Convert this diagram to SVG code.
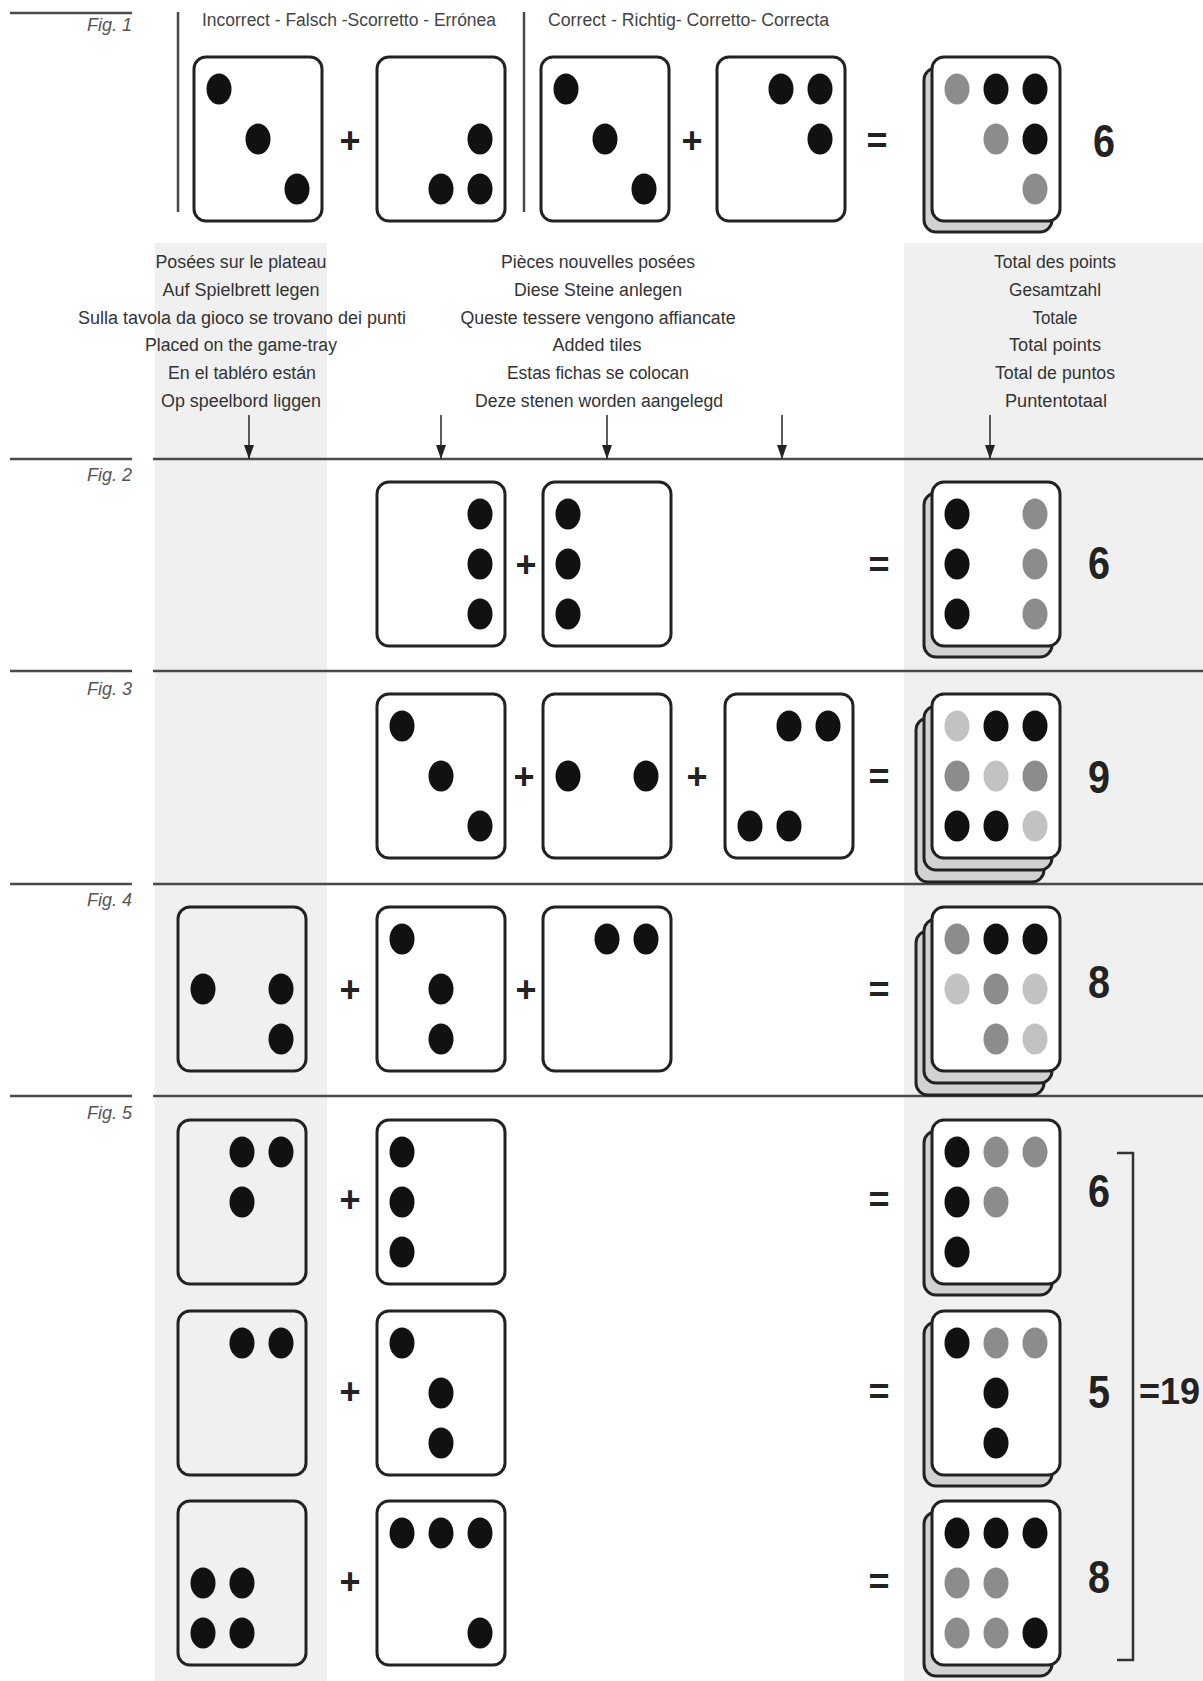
<svg xmlns="http://www.w3.org/2000/svg" xmlns:xlink="http://www.w3.org/1999/xlink" width="1203" height="1681" viewBox="0 0 1203 1681">
<style>
.ln{stroke:#4a4a4a;stroke-width:2.5;fill:none}
.br{stroke:#333;stroke-width:2.5;fill:none}
.ar{stroke:#333;stroke-width:1.6;fill:none}
.tile{fill:#fff;stroke:#222;stroke-width:3}
.tileT{fill:none;stroke:#222;stroke-width:3}
.back{fill:#d2d2d2;stroke:#222;stroke-width:3}
.k{fill:#111}.m{fill:#8c8c8c}.l{fill:#c2c2c2}
.band{fill:#f0f0f0}
.hdr{font-family:"Liberation Sans",Arial,sans-serif;font-size:18px;fill:#333;text-anchor:middle}
.hdl{font-family:"Liberation Sans",Arial,sans-serif;font-size:18px;fill:#444}
.fig{font-family:"Liberation Sans",Arial,sans-serif;font-style:italic;font-size:18px;fill:#555;text-anchor:end}
.op{font-family:"Liberation Sans",Arial,sans-serif;font-weight:bold;font-size:36px;fill:#222;text-anchor:middle;dominant-baseline:central}
.num{font-family:"Liberation Sans",Arial,sans-serif;font-weight:bold;font-size:47px;fill:#222;text-anchor:middle;dominant-baseline:central}
.tot{font-family:"Liberation Sans",Arial,sans-serif;font-weight:bold;font-size:36px;fill:#222;dominant-baseline:central}
</style>
<defs>
<marker id="ah" viewBox="0 0 14 10" refX="14" refY="5" markerWidth="14" markerHeight="10" markerUnits="userSpaceOnUse" orient="auto">
<path d="M0,0 L14,5 L0,10 z" fill="#222"/>
</marker>
<rect id="t" width="128" height="164" rx="12"/>
</defs>
<rect width="1203" height="1681" fill="#fff"/>
<!-- background bands -->
<rect class="band" x="155" y="243" width="172" height="1438"/>
<rect class="band" x="904" y="243" width="299" height="1438"/>

<!-- rules -->
<g id="rules">
<line class="ln" x1="10" y1="13" x2="132" y2="13"/>
<line class="ln" x1="178" y1="12" x2="178" y2="212"/>
<line class="ln" x1="524" y1="12" x2="524" y2="212"/>
<line class="ln" x1="10" y1="459" x2="132" y2="459"/>
<line class="ln" x1="153" y1="459" x2="1203" y2="459"/>
<line class="ln" x1="10" y1="671" x2="132" y2="671"/>
<line class="ln" x1="153" y1="671" x2="1203" y2="671"/>
<line class="ln" x1="10" y1="884" x2="132" y2="884"/>
<line class="ln" x1="153" y1="884" x2="1203" y2="884"/>
<line class="ln" x1="10" y1="1096" x2="132" y2="1096"/>
<line class="ln" x1="153" y1="1096" x2="1203" y2="1096"/>
</g>

<!-- labels -->
<g id="figlabels">
<text class="fig" x="132" y="31">Fig. 1</text>
<text class="fig" x="132" y="481">Fig. 2</text>
<text class="fig" x="132" y="695">Fig. 3</text>
<text class="fig" x="132" y="906">Fig. 4</text>
<text class="fig" x="132" y="1119">Fig. 5</text>
</g>
<g id="fig1-headers">
<text class="hdl" x="202" y="26" textLength="294" lengthAdjust="spacingAndGlyphs">Incorrect - Falsch -Scorretto - Errónea</text>
<text class="hdl" x="548" y="26" textLength="281" lengthAdjust="spacingAndGlyphs">Correct - Richtig- Corretto- Correcta</text>
</g>
<g id="col1-header">
<text class="hdr" x="241" y="268" textLength="171" lengthAdjust="spacingAndGlyphs">Posées sur le plateau</text>
<text class="hdr" x="241" y="296" textLength="157" lengthAdjust="spacingAndGlyphs">Auf Spielbrett legen</text>
<text class="hdr" x="242" y="324" textLength="328" lengthAdjust="spacingAndGlyphs">Sulla tavola da gioco se trovano dei punti</text>
<text class="hdr" x="241" y="351" textLength="192" lengthAdjust="spacingAndGlyphs">Placed on the game-tray</text>
<text class="hdr" x="242" y="379" textLength="148" lengthAdjust="spacingAndGlyphs">En el tabléro están</text>
<text class="hdr" x="241" y="407" textLength="160" lengthAdjust="spacingAndGlyphs">Op speelbord liggen</text>
</g>
<g id="col2-header">
<text class="hdr" x="598" y="268" textLength="194" lengthAdjust="spacingAndGlyphs">Pièces nouvelles posées</text>
<text class="hdr" x="598" y="296" textLength="168" lengthAdjust="spacingAndGlyphs">Diese Steine anlegen</text>
<text class="hdr" x="598" y="324" textLength="275" lengthAdjust="spacingAndGlyphs">Queste tessere vengono affiancate</text>
<text class="hdr" x="597" y="351" textLength="89" lengthAdjust="spacingAndGlyphs">Added tiles</text>
<text class="hdr" x="598" y="379" textLength="182" lengthAdjust="spacingAndGlyphs">Estas fichas se colocan</text>
<text class="hdr" x="599" y="407" textLength="248" lengthAdjust="spacingAndGlyphs">Deze stenen worden aangelegd</text>
</g>
<g id="col3-header">
<text class="hdr" x="1055" y="268" textLength="122" lengthAdjust="spacingAndGlyphs">Total des points</text>
<text class="hdr" x="1055" y="296" textLength="92" lengthAdjust="spacingAndGlyphs">Gesamtzahl</text>
<text class="hdr" x="1055" y="324" textLength="45" lengthAdjust="spacingAndGlyphs">Totale</text>
<text class="hdr" x="1055" y="351" textLength="92" lengthAdjust="spacingAndGlyphs">Total points</text>
<text class="hdr" x="1055" y="379" textLength="120" lengthAdjust="spacingAndGlyphs">Total de puntos</text>
<text class="hdr" x="1056" y="407" textLength="102" lengthAdjust="spacingAndGlyphs">Puntentotaal</text>
</g>

<!-- connectors -->
<g id="connectors">
<line class="ar" x1="249" y1="415" x2="249" y2="459" marker-end="url(#ah)"/>
<line class="ar" x1="441" y1="415" x2="441" y2="459" marker-end="url(#ah)"/>
<line class="ar" x1="607" y1="415" x2="607" y2="459" marker-end="url(#ah)"/>
<line class="ar" x1="782" y1="415" x2="782" y2="459" marker-end="url(#ah)"/>
<line class="ar" x1="990" y1="415" x2="990" y2="459" marker-end="url(#ah)"/>
</g>

<!-- ===== Fig 1 ===== -->
<g id="f1-a" transform="translate(194,57)">
<use href="#t" class="tile"/>
<ellipse class="k" cx="25" cy="32" rx="12.5" ry="15.5"/>
<ellipse class="k" cx="64" cy="82" rx="12.5" ry="15.5"/>
<ellipse class="k" cx="103" cy="132" rx="12.5" ry="15.5"/>
</g>
<text class="op" x="350" y="140">+</text>
<g id="f1-b" transform="translate(377,57)">
<use href="#t" class="tile"/>
<ellipse class="k" cx="103" cy="82" rx="12.5" ry="15.5"/>
<ellipse class="k" cx="64" cy="132" rx="12.5" ry="15.5"/>
<ellipse class="k" cx="103" cy="132" rx="12.5" ry="15.5"/>
</g>
<g id="f1-c" transform="translate(541,57)">
<use href="#t" class="tile"/>
<ellipse class="k" cx="25" cy="32" rx="12.5" ry="15.5"/>
<ellipse class="k" cx="64" cy="82" rx="12.5" ry="15.5"/>
<ellipse class="k" cx="103" cy="132" rx="12.5" ry="15.5"/>
</g>
<text class="op" x="692" y="140">+</text>
<g id="f1-d" transform="translate(717,57)">
<use href="#t" class="tile"/>
<ellipse class="k" cx="64" cy="32" rx="12.5" ry="15.5"/>
<ellipse class="k" cx="103" cy="32" rx="12.5" ry="15.5"/>
<ellipse class="k" cx="103" cy="82" rx="12.5" ry="15.5"/>
</g>
<text class="op" x="877" y="140">=</text>
<g id="f1-r" transform="translate(932,57)">
<use href="#t" class="back" x="-8" y="11"/>
<use href="#t" class="tile"/>
<ellipse class="m" cx="25" cy="32" rx="12.5" ry="15.5"/>
<ellipse class="k" cx="64" cy="32" rx="12.5" ry="15.5"/>
<ellipse class="k" cx="103" cy="32" rx="12.5" ry="15.5"/>
<ellipse class="m" cx="64" cy="82" rx="12.5" ry="15.5"/>
<ellipse class="k" cx="103" cy="82" rx="12.5" ry="15.5"/>
<ellipse class="m" cx="103" cy="132" rx="12.5" ry="15.5"/>
</g>
<text class="num" x="1104" y="140" textLength="22" lengthAdjust="spacingAndGlyphs">6</text>

<!-- ===== Fig 2 ===== -->
<g id="f2-b" transform="translate(377,482)">
<use href="#t" class="tile"/>
<ellipse class="k" cx="103" cy="32" rx="12.5" ry="15.5"/>
<ellipse class="k" cx="103" cy="82" rx="12.5" ry="15.5"/>
<ellipse class="k" cx="103" cy="132" rx="12.5" ry="15.5"/>
</g>
<text class="op" x="526" y="564">+</text>
<g id="f2-c" transform="translate(543,482)">
<use href="#t" class="tile"/>
<ellipse class="k" cx="25" cy="32" rx="12.5" ry="15.5"/>
<ellipse class="k" cx="25" cy="82" rx="12.5" ry="15.5"/>
<ellipse class="k" cx="25" cy="132" rx="12.5" ry="15.5"/>
</g>
<text class="op" x="879" y="564">=</text>
<g id="f2-r" transform="translate(932,482)">
<use href="#t" class="back" x="-8" y="11"/>
<use href="#t" class="tile"/>
<ellipse class="k" cx="25" cy="32" rx="12.5" ry="15.5"/>
<ellipse class="k" cx="25" cy="82" rx="12.5" ry="15.5"/>
<ellipse class="k" cx="25" cy="132" rx="12.5" ry="15.5"/>
<ellipse class="m" cx="103" cy="32" rx="12.5" ry="15.5"/>
<ellipse class="m" cx="103" cy="82" rx="12.5" ry="15.5"/>
<ellipse class="m" cx="103" cy="132" rx="12.5" ry="15.5"/>
</g>
<text class="num" x="1099" y="562" textLength="22" lengthAdjust="spacingAndGlyphs">6</text>

<!-- ===== Fig 3 ===== -->
<g id="f3-b" transform="translate(377,694)">
<use href="#t" class="tile"/>
<ellipse class="k" cx="25" cy="32" rx="12.5" ry="15.5"/>
<ellipse class="k" cx="64" cy="82" rx="12.5" ry="15.5"/>
<ellipse class="k" cx="103" cy="132" rx="12.5" ry="15.5"/>
</g>
<text class="op" x="524" y="776">+</text>
<g id="f3-c" transform="translate(543,694)">
<use href="#t" class="tile"/>
<ellipse class="k" cx="25" cy="82" rx="12.5" ry="15.5"/>
<ellipse class="k" cx="103" cy="82" rx="12.5" ry="15.5"/>
</g>
<text class="op" x="697" y="776">+</text>
<g id="f3-d" transform="translate(725,694)">
<use href="#t" class="tile"/>
<ellipse class="k" cx="64" cy="32" rx="12.5" ry="15.5"/>
<ellipse class="k" cx="103" cy="32" rx="12.5" ry="15.5"/>
<ellipse class="k" cx="25" cy="132" rx="12.5" ry="15.5"/>
<ellipse class="k" cx="64" cy="132" rx="12.5" ry="15.5"/>
</g>
<text class="op" x="879" y="776">=</text>
<g id="f3-r" transform="translate(932,694)">
<use href="#t" class="back" x="-16" y="24"/>
<use href="#t" class="back" x="-8" y="12"/>
<use href="#t" class="tile"/>
<ellipse class="l" cx="25" cy="32" rx="12.5" ry="15.5"/>
<ellipse class="k" cx="64" cy="32" rx="12.5" ry="15.5"/>
<ellipse class="k" cx="103" cy="32" rx="12.5" ry="15.5"/>
<ellipse class="m" cx="25" cy="82" rx="12.5" ry="15.5"/>
<ellipse class="l" cx="64" cy="82" rx="12.5" ry="15.5"/>
<ellipse class="m" cx="103" cy="82" rx="12.5" ry="15.5"/>
<ellipse class="k" cx="25" cy="132" rx="12.5" ry="15.5"/>
<ellipse class="k" cx="64" cy="132" rx="12.5" ry="15.5"/>
<ellipse class="l" cx="103" cy="132" rx="12.5" ry="15.5"/>
</g>
<text class="num" x="1099" y="776" textLength="22" lengthAdjust="spacingAndGlyphs">9</text>

<!-- ===== Fig 4 ===== -->
<g id="f4-a" transform="translate(178,907)">
<use href="#t" class="tileT"/>
<ellipse class="k" cx="25" cy="82" rx="12.5" ry="15.5"/>
<ellipse class="k" cx="103" cy="82" rx="12.5" ry="15.5"/>
<ellipse class="k" cx="103" cy="132" rx="12.5" ry="15.5"/>
</g>
<text class="op" x="350" y="989">+</text>
<g id="f4-b" transform="translate(377,907)">
<use href="#t" class="tile"/>
<ellipse class="k" cx="25" cy="32" rx="12.5" ry="15.5"/>
<ellipse class="k" cx="64" cy="82" rx="12.5" ry="15.5"/>
<ellipse class="k" cx="64" cy="132" rx="12.5" ry="15.5"/>
</g>
<text class="op" x="526" y="989">+</text>
<g id="f4-c" transform="translate(543,907)">
<use href="#t" class="tile"/>
<ellipse class="k" cx="64" cy="32" rx="12.5" ry="15.5"/>
<ellipse class="k" cx="103" cy="32" rx="12.5" ry="15.5"/>
</g>
<text class="op" x="879" y="989">=</text>
<g id="f4-r" transform="translate(932,907)">
<use href="#t" class="back" x="-16" y="24"/>
<use href="#t" class="back" x="-8" y="12"/>
<use href="#t" class="tile"/>
<ellipse class="m" cx="25" cy="32" rx="12.5" ry="15.5"/>
<ellipse class="k" cx="64" cy="32" rx="12.5" ry="15.5"/>
<ellipse class="k" cx="103" cy="32" rx="12.5" ry="15.5"/>
<ellipse class="l" cx="25" cy="82" rx="12.5" ry="15.5"/>
<ellipse class="m" cx="64" cy="82" rx="12.5" ry="15.5"/>
<ellipse class="l" cx="103" cy="82" rx="12.5" ry="15.5"/>
<ellipse class="m" cx="64" cy="132" rx="12.5" ry="15.5"/>
<ellipse class="l" cx="103" cy="132" rx="12.5" ry="15.5"/>
</g>
<text class="num" x="1099" y="981" textLength="22" lengthAdjust="spacingAndGlyphs">8</text>

<!-- ===== Fig 5 ===== -->
<g id="f5a-a" transform="translate(178,1120)">
<use href="#t" class="tileT"/>
<ellipse class="k" cx="64" cy="32" rx="12.5" ry="15.5"/>
<ellipse class="k" cx="103" cy="32" rx="12.5" ry="15.5"/>
<ellipse class="k" cx="64" cy="82" rx="12.5" ry="15.5"/>
</g>
<text class="op" x="350" y="1199">+</text>
<g id="f5a-b" transform="translate(377,1120)">
<use href="#t" class="tile"/>
<ellipse class="k" cx="25" cy="32" rx="12.5" ry="15.5"/>
<ellipse class="k" cx="25" cy="82" rx="12.5" ry="15.5"/>
<ellipse class="k" cx="25" cy="132" rx="12.5" ry="15.5"/>
</g>
<text class="op" x="879" y="1199">=</text>
<g id="f5a-r" transform="translate(932,1120)">
<use href="#t" class="back" x="-8" y="11"/>
<use href="#t" class="tile"/>
<ellipse class="k" cx="25" cy="32" rx="12.5" ry="15.5"/>
<ellipse class="m" cx="64" cy="32" rx="12.5" ry="15.5"/>
<ellipse class="m" cx="103" cy="32" rx="12.5" ry="15.5"/>
<ellipse class="k" cx="25" cy="82" rx="12.5" ry="15.5"/>
<ellipse class="m" cx="64" cy="82" rx="12.5" ry="15.5"/>
<ellipse class="k" cx="25" cy="132" rx="12.5" ry="15.5"/>
</g>
<text class="num" x="1099" y="1190" textLength="22" lengthAdjust="spacingAndGlyphs">6</text>

<g id="f5b-a" transform="translate(178,1311)">
<use href="#t" class="tileT"/>
<ellipse class="k" cx="64" cy="32" rx="12.5" ry="15.5"/>
<ellipse class="k" cx="103" cy="32" rx="12.5" ry="15.5"/>
</g>
<text class="op" x="350" y="1391">+</text>
<g id="f5b-b" transform="translate(377,1311)">
<use href="#t" class="tile"/>
<ellipse class="k" cx="25" cy="32" rx="12.5" ry="15.5"/>
<ellipse class="k" cx="64" cy="82" rx="12.5" ry="15.5"/>
<ellipse class="k" cx="64" cy="132" rx="12.5" ry="15.5"/>
</g>
<text class="op" x="879" y="1391">=</text>
<g id="f5b-r" transform="translate(932,1311)">
<use href="#t" class="back" x="-8" y="11"/>
<use href="#t" class="tile"/>
<ellipse class="k" cx="25" cy="32" rx="12.5" ry="15.5"/>
<ellipse class="m" cx="64" cy="32" rx="12.5" ry="15.5"/>
<ellipse class="m" cx="103" cy="32" rx="12.5" ry="15.5"/>
<ellipse class="k" cx="64" cy="82" rx="12.5" ry="15.5"/>
<ellipse class="k" cx="64" cy="132" rx="12.5" ry="15.5"/>
</g>
<text class="num" x="1099" y="1391" textLength="22" lengthAdjust="spacingAndGlyphs">5</text>

<g id="f5c-a" transform="translate(178,1501)">
<use href="#t" class="tileT"/>
<ellipse class="k" cx="25" cy="82" rx="12.5" ry="15.5"/>
<ellipse class="k" cx="64" cy="82" rx="12.5" ry="15.5"/>
<ellipse class="k" cx="25" cy="132" rx="12.5" ry="15.5"/>
<ellipse class="k" cx="64" cy="132" rx="12.5" ry="15.5"/>
</g>
<text class="op" x="350" y="1581">+</text>
<g id="f5c-b" transform="translate(377,1501)">
<use href="#t" class="tile"/>
<ellipse class="k" cx="25" cy="32" rx="12.5" ry="15.5"/>
<ellipse class="k" cx="64" cy="32" rx="12.5" ry="15.5"/>
<ellipse class="k" cx="103" cy="32" rx="12.5" ry="15.5"/>
<ellipse class="k" cx="103" cy="132" rx="12.5" ry="15.5"/>
</g>
<text class="op" x="879" y="1581">=</text>
<g id="f5c-r" transform="translate(932,1501)">
<use href="#t" class="back" x="-8" y="11"/>
<use href="#t" class="tile"/>
<ellipse class="k" cx="25" cy="32" rx="12.5" ry="15.5"/>
<ellipse class="k" cx="64" cy="32" rx="12.5" ry="15.5"/>
<ellipse class="k" cx="103" cy="32" rx="12.5" ry="15.5"/>
<ellipse class="m" cx="25" cy="82" rx="12.5" ry="15.5"/>
<ellipse class="m" cx="64" cy="82" rx="12.5" ry="15.5"/>
<ellipse class="m" cx="25" cy="132" rx="12.5" ry="15.5"/>
<ellipse class="m" cx="64" cy="132" rx="12.5" ry="15.5"/>
<ellipse class="k" cx="103" cy="132" rx="12.5" ry="15.5"/>
</g>
<text class="num" x="1099" y="1576" textLength="22" lengthAdjust="spacingAndGlyphs">8</text>

<g id="sum-bracket">
<path class="br" d="M1117,1153 H1133 V1660 H1117"/>
<text class="tot" x="1139" y="1391">=19</text>
</g>
</svg>
